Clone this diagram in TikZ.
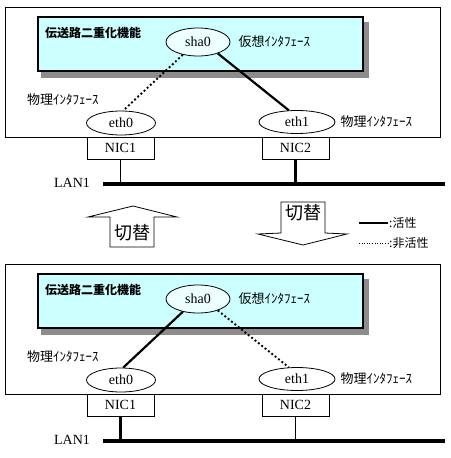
\documentclass[tikz,border=0pt]{standalone}
\usepackage{fontspec}
\setmainfont{Liberation Serif}
\newfontfamily\jpfont{Noto Sans CJK JP}
\usepackage{tikz}
\usetikzlibrary{positioning, shapes.geometric}
\definecolor{boxCyan}{HTML}{CCFFFF}
\definecolor{ifFill}{HTML}{EEFFFF}
\definecolor{shadowGray}{HTML}{8C8C8C}
\tikzset{
  latin/.style={font=\fontsize{14}{14}\selectfont, inner sep=0pt},
  jplabel/.style={font=\jpfont\fontsize{13}{13}\selectfont, inner sep=0pt},
  ifnode/.style={draw, ellipse, line width=0.8pt, fill=white, inner sep=0pt, latin},
  nicbox/.style={draw, line width=0.8pt, fill=white, minimum width=67pt, minimum height=22pt, inner sep=0pt, latin},
  live/.style={line width=2.2pt},
  idle/.style={line width=1.9pt, dash pattern=on 1.9pt off 2.4pt},
  switcharrow/.style={draw, line width=0.8pt, fill=white, line join=miter},
}

\begin{document}
\begin{tikzpicture}[x=1pt, y=-1pt]
  \useasboundingbox (0,0) rectangle (450,458);
  \foreach \p/\dy/\ls/\rs/\lw/\rw in {t/0/idle/live/0.8pt/3pt, b/257/live/idle/3pt/0.8pt}
  {
    \begin{scope}[shift={(0,\dy)}]
      % host and redundancy box
      \draw[line width=0.8pt] (5,7) rectangle (440,137);
      \fill[shadowGray] (41,22) rectangle (369,78);
      \draw[line width=1.2pt, fill=boxCyan] (38,17) rectangle (363,71);
      \node[jplabel, font=\jpfont\bfseries\fontsize{12}{12}\selectfont, anchor=west] (title\p) at (45,33) {伝送路二重化機能};
      % interfaces
      \node[ifnode, fill=ifFill, minimum width=64pt, minimum height=28pt] (sha\p) at (198,42) {sha0};
      \node[jplabel, right=8pt of sha\p] (virt\p) {仮想ｲﾝﾀﾌｪｰｽ};
      \node[ifnode, minimum width=69pt, minimum height=24pt] (etha\p) at (121,123) {eth0};
      \node[ifnode, minimum width=76pt, minimum height=23pt] (ethb\p) at (297,122) {eth1};
      \node[jplabel, anchor=west] (phya\p) at (27,100) {物理ｲﾝﾀﾌｪｰｽ};
      \node[jplabel, right=5pt of ethb\p] (phyb\p) {物理ｲﾝﾀﾌｪｰｽ};
      \draw[\ls] (sha\p.-140) -- (etha\p.80);
      \draw[\rs] (sha\p.-30) -- (ethb\p.125);
      % NICs and LAN
      \node[nicbox, anchor=north] (nica\p) at (120.5,137) {NIC1};
      \node[nicbox, anchor=north] (nicb\p) at (295.5,137) {NIC2};
      \node[latin] (lan\p) at (72,183) {LAN1};
      \coordinate (lanl\p) at (103,184);
      \coordinate (lanr\p) at (445,184);
      \draw[line width=4pt] (lanl\p) -- (lanr\p);
      \draw[line width=\lw] (nica\p.south) -- (nica\p.south |- lanl\p);
      \draw[line width=\rw] (nicb\p.south) -- (nicb\p.south |- lanl\p);
    \end{scope}
  }
  % switch-over arrows
  \draw[switcharrow] (110,247) -- (110,217) -- (88,217) -- (133,206) -- (177,217) -- (154,217) -- (154,247) -- cycle;
  \node[jplabel, font=\jpfont\fontsize{18}{18}\selectfont] (swup) at (132,233) {切替};
  \draw[switcharrow] (281,202) -- (325,202) -- (325,233) -- (347,234) -- (303,245) -- (258,234) -- (281,233) -- cycle;
  \node[jplabel, font=\jpfont\fontsize{18}{18}\selectfont] (swdown) at (303,213) {切替};
  % legend
  \node[jplabel, font=\jpfont\fontsize{12}{12}\selectfont, anchor=west] (act) at (389,223) {:活性};
  \node[jplabel, font=\jpfont\fontsize{12}{12}\selectfont, anchor=west] (inact) at (389,243) {:非活性};
  \draw[line width=2pt] ([xshift=-30pt]act.west) -- ([xshift=-1pt]act.west);
  \draw[line width=1pt, dash pattern=on 1pt off 1.6pt] ([xshift=-30pt]inact.west) -- ([xshift=-1pt]inact.west);
\end{tikzpicture}
\end{document}
